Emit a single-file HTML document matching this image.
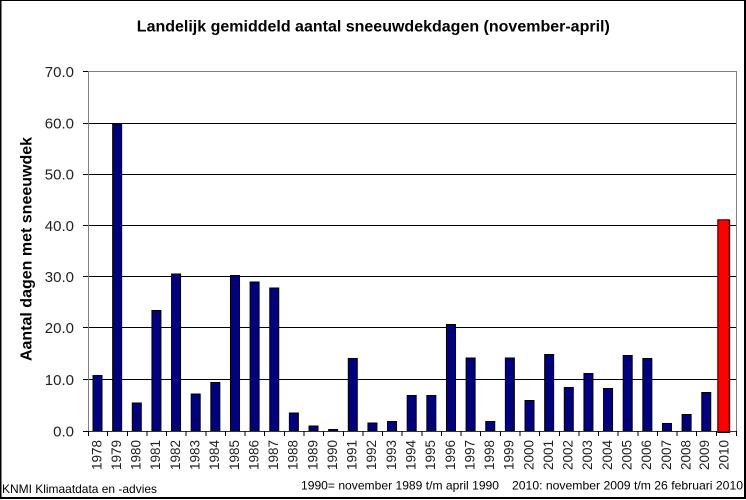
<!DOCTYPE html>
<html>
<head>
<meta charset="utf-8">
<style>
  html,body{margin:0;padding:0;background:#fff;}
  svg{display:block;}
  text{font-family:"Liberation Sans",Arial,sans-serif;}
</style>
</head>
<body>
<svg width="746" height="500" viewBox="0 0 746 500" xmlns="http://www.w3.org/2000/svg">
  <rect x="0" y="0" width="746" height="500" fill="#fff"/>

  <!-- title -->
  <text x="373.3" y="31.7" font-size="16" font-weight="bold" text-anchor="middle" fill="#000">Landelijk gemiddeld aantal sneeuwdekdagen (november-april)</text>

  <!-- y axis title -->
  <text transform="translate(31.7,249) rotate(-90)" font-size="16" font-weight="bold" text-anchor="middle" fill="#000">Aantal dagen met sneeuwdek</text>

  <!-- gridlines -->
  <g stroke="#000" stroke-width="1" shape-rendering="crispEdges">
    <line x1="88" y1="379.5" x2="736" y2="379.5"/>
    <line x1="88" y1="327.5" x2="736" y2="327.5"/>
    <line x1="88" y1="276.5" x2="736" y2="276.5"/>
    <line x1="88" y1="225.5" x2="736" y2="225.5"/>
    <line x1="88" y1="174.5" x2="736" y2="174.5"/>
    <line x1="88" y1="123.5" x2="736" y2="123.5"/>
  </g>
  <!-- plot border top/right -->
  <g stroke="#808080" stroke-width="1" shape-rendering="crispEdges">
    <line x1="88" y1="71.5" x2="737" y2="71.5"/>
    <line x1="736.5" y1="71.5" x2="736.5" y2="431.5"/>
  </g>

  <!-- bars -->
  <g fill="#000080" stroke="#000" stroke-width="1">
    <rect x="93.0" y="375.5" width="9" height="55.5"/>
    <rect x="112.65" y="124" width="9" height="307"/>
    <rect x="132.29" y="403" width="9" height="28"/>
    <rect x="151.93" y="310.5" width="9" height="120.5"/>
    <rect x="171.56" y="274" width="9" height="157"/>
    <rect x="191.2" y="394" width="9" height="37"/>
    <rect x="210.84" y="382.5" width="9" height="48.5"/>
    <rect x="230.47" y="275.5" width="9" height="155.5"/>
    <rect x="250.11" y="282" width="9" height="149"/>
    <rect x="269.75" y="288" width="9" height="143"/>
    <rect x="289.38" y="413" width="9" height="18"/>
    <rect x="309.02" y="426" width="9" height="5"/>
    <rect x="328.65" y="429.5" width="9" height="1.5"/>
    <rect x="348.29" y="358.5" width="9" height="72.5"/>
    <rect x="367.93" y="423" width="9" height="8"/>
    <rect x="387.56" y="421.5" width="9" height="9.5"/>
    <rect x="407.2" y="395.5" width="9" height="35.5"/>
    <rect x="426.84" y="395.5" width="9" height="35.5"/>
    <rect x="446.47" y="324.5" width="9" height="106.5"/>
    <rect x="466.11" y="358" width="9" height="73"/>
    <rect x="485.75" y="421.5" width="9" height="9.5"/>
    <rect x="505.38" y="358" width="9" height="73"/>
    <rect x="525.02" y="400.5" width="9" height="30.5"/>
    <rect x="544.65" y="354.5" width="9" height="76.5"/>
    <rect x="564.29" y="387.5" width="9" height="43.5"/>
    <rect x="583.93" y="373.5" width="9" height="57.5"/>
    <rect x="603.56" y="388.5" width="9" height="42.5"/>
    <rect x="623.2" y="355.5" width="9" height="75.5"/>
    <rect x="642.84" y="358.5" width="9" height="72.5"/>
    <rect x="662.47" y="423.5" width="9" height="7.5"/>
    <rect x="682.11" y="414.5" width="9" height="16.5"/>
    <rect x="701.75" y="392.5" width="9" height="38.5"/>
  </g>
  <!-- red 2010 bar -->
  <rect x="717.8" y="219.8" width="11.5" height="212.7" fill="#ff0000" stroke="#000" stroke-width="1"/>
  <line x1="729.6" y1="220" x2="729.6" y2="433" stroke="#000" stroke-width="1.2"/>

  <!-- axes -->
  <g shape-rendering="crispEdges">
    <line x1="88.5" y1="71.5" x2="88.5" y2="431.5" stroke="#808080" stroke-width="1"/>
    <line x1="88" y1="431.5" x2="737" y2="431.5" stroke="#333" stroke-width="1"/>
  </g>

  <!-- y ticks -->
  <g stroke="#000" stroke-width="1" shape-rendering="crispEdges">
    <line x1="83" y1="431.5" x2="88" y2="431.5"/>
    <line x1="83" y1="379.5" x2="88" y2="379.5"/>
    <line x1="83" y1="327.5" x2="88" y2="327.5"/>
    <line x1="83" y1="276.5" x2="88" y2="276.5"/>
    <line x1="83" y1="225.5" x2="88" y2="225.5"/>
    <line x1="83" y1="174.5" x2="88" y2="174.5"/>
    <line x1="83" y1="123.5" x2="88" y2="123.5"/>
    <line x1="83" y1="71.5" x2="88" y2="71.5"/>
  </g>

  <!-- y tick labels -->
  <g font-size="15" text-anchor="end" fill="#222">
    <text x="74" y="436.4">0.0</text>
    <text x="74" y="384.8">10.0</text>
    <text x="74" y="333.2">20.0</text>
    <text x="74" y="281.8">30.0</text>
    <text x="74" y="231">40.0</text>
    <text x="74" y="179.6">50.0</text>
    <text x="74" y="128.6">60.0</text>
    <text x="74" y="77.2">70.0</text>
  </g>

  <!-- x ticks -->
  <g stroke="#000" stroke-width="1" shape-rendering="crispEdges">
    <line x1="88.5" y1="431" x2="88.5" y2="436"/>
    <line x1="107.64" y1="431" x2="107.64" y2="436"/>
    <line x1="127.27" y1="431" x2="127.27" y2="436"/>
    <line x1="146.91" y1="431" x2="146.91" y2="436"/>
    <line x1="166.55" y1="431" x2="166.55" y2="436"/>
    <line x1="186.18" y1="431" x2="186.18" y2="436"/>
    <line x1="205.82" y1="431" x2="205.82" y2="436"/>
    <line x1="225.45" y1="431" x2="225.45" y2="436"/>
    <line x1="245.09" y1="431" x2="245.09" y2="436"/>
    <line x1="264.73" y1="431" x2="264.73" y2="436"/>
    <line x1="284.36" y1="431" x2="284.36" y2="436"/>
    <line x1="304.0" y1="431" x2="304.0" y2="436"/>
    <line x1="323.64" y1="431" x2="323.64" y2="436"/>
    <line x1="343.27" y1="431" x2="343.27" y2="436"/>
    <line x1="362.91" y1="431" x2="362.91" y2="436"/>
    <line x1="382.55" y1="431" x2="382.55" y2="436"/>
    <line x1="402.18" y1="431" x2="402.18" y2="436"/>
    <line x1="421.82" y1="431" x2="421.82" y2="436"/>
    <line x1="441.45" y1="431" x2="441.45" y2="436"/>
    <line x1="461.09" y1="431" x2="461.09" y2="436"/>
    <line x1="480.73" y1="431" x2="480.73" y2="436"/>
    <line x1="500.36" y1="431" x2="500.36" y2="436"/>
    <line x1="520.0" y1="431" x2="520.0" y2="436"/>
    <line x1="539.64" y1="431" x2="539.64" y2="436"/>
    <line x1="559.27" y1="431" x2="559.27" y2="436"/>
    <line x1="578.91" y1="431" x2="578.91" y2="436"/>
    <line x1="598.55" y1="431" x2="598.55" y2="436"/>
    <line x1="618.18" y1="431" x2="618.18" y2="436"/>
    <line x1="637.82" y1="431" x2="637.82" y2="436"/>
    <line x1="657.45" y1="431" x2="657.45" y2="436"/>
    <line x1="677.09" y1="431" x2="677.09" y2="436"/>
    <line x1="696.73" y1="431" x2="696.73" y2="436"/>
    <line x1="716.36" y1="431" x2="716.36" y2="436"/>
    <line x1="736.5" y1="431" x2="736.5" y2="436"/>
  </g>

  <!-- x labels -->
  <g font-size="13.5" text-anchor="end" fill="#222">
    <text transform="translate(101.3,440) rotate(-90)">1978</text>
    <text transform="translate(120.95,440) rotate(-90)">1979</text>
    <text transform="translate(140.59,440) rotate(-90)">1980</text>
    <text transform="translate(160.23,440) rotate(-90)">1981</text>
    <text transform="translate(179.86,440) rotate(-90)">1982</text>
    <text transform="translate(199.5,440) rotate(-90)">1983</text>
    <text transform="translate(219.14,440) rotate(-90)">1984</text>
    <text transform="translate(238.77,440) rotate(-90)">1985</text>
    <text transform="translate(258.41,440) rotate(-90)">1986</text>
    <text transform="translate(278.05,440) rotate(-90)">1987</text>
    <text transform="translate(297.68,440) rotate(-90)">1988</text>
    <text transform="translate(317.32,440) rotate(-90)">1989</text>
    <text transform="translate(336.95,440) rotate(-90)">1990</text>
    <text transform="translate(356.59,440) rotate(-90)">1991</text>
    <text transform="translate(376.23,440) rotate(-90)">1992</text>
    <text transform="translate(395.86,440) rotate(-90)">1993</text>
    <text transform="translate(415.5,440) rotate(-90)">1994</text>
    <text transform="translate(435.14,440) rotate(-90)">1995</text>
    <text transform="translate(454.77,440) rotate(-90)">1996</text>
    <text transform="translate(474.41,440) rotate(-90)">1997</text>
    <text transform="translate(494.05,440) rotate(-90)">1998</text>
    <text transform="translate(513.68,440) rotate(-90)">1999</text>
    <text transform="translate(533.32,440) rotate(-90)">2000</text>
    <text transform="translate(552.95,440) rotate(-90)">2001</text>
    <text transform="translate(572.59,440) rotate(-90)">2002</text>
    <text transform="translate(592.23,440) rotate(-90)">2003</text>
    <text transform="translate(611.86,440) rotate(-90)">2004</text>
    <text transform="translate(631.5,440) rotate(-90)">2005</text>
    <text transform="translate(651.14,440) rotate(-90)">2006</text>
    <text transform="translate(670.77,440) rotate(-90)">2007</text>
    <text transform="translate(690.41,440) rotate(-90)">2008</text>
    <text transform="translate(709.05,440) rotate(-90)">2009</text>
    <text transform="translate(728.68,440) rotate(-90)">2010</text>
  </g>

  <!-- footers -->
  <g font-size="12" fill="#000">
    <text x="2" y="493" textLength="155" lengthAdjust="spacingAndGlyphs">KNMI Klimaatdata en -advies</text>
    <text x="301" y="489.5" textLength="198" lengthAdjust="spacingAndGlyphs">1990= november 1989 t/m april 1990</text>
    <text x="512" y="489.5" textLength="231" lengthAdjust="spacingAndGlyphs">2010: november 2009 t/m 26 februari 2010</text>
  </g>

  <!-- outer frame -->
  <g fill="#000">
    <rect x="0" y="0" width="746" height="1"/>
    <rect x="0" y="0" width="1.5" height="499"/>
    <rect x="744" y="0" width="2" height="499"/>
    <rect x="0" y="497" width="746" height="2"/>
  </g>
</svg>
</body>
</html>
